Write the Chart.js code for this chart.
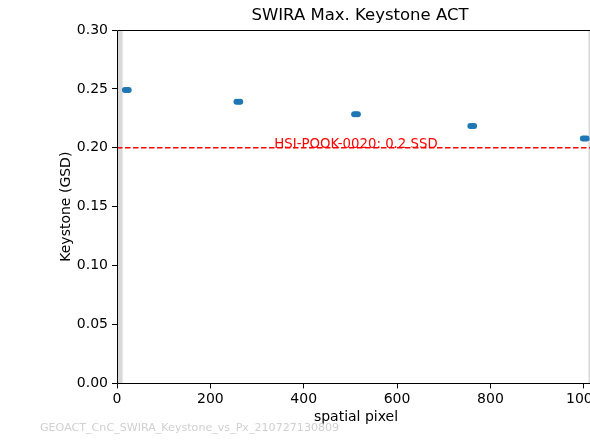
<!DOCTYPE html>
<html>
<head>
<meta charset="utf-8">
<script src="https://cdn.jsdelivr.net/npm/chart.js@4"></script>
<style>
  html, body { margin: 0; padding: 0; background: #fff; overflow: hidden; }
  #wrap { position: relative; width: 590px; height: 440px; overflow: hidden; }
  #chart { position: absolute; left: 0; top: 0; }
</style>
</head>
<body>
<div id="wrap"><canvas id="chart" width="640" height="440"></canvas></div>
<script>
// measured keystone per spatial pixel (several frames per position)
const pixelX = [17, 21, 25, 256, 260, 264, 508, 512, 516, 757, 761, 765, 998, 1002, 1006];
const keystone = [0.249, 0.249, 0.249, 0.239, 0.239, 0.239, 0.2285, 0.2285, 0.2285, 0.2185, 0.2185, 0.2185, 0.208, 0.208, 0.208];
const xTicks = [0, 200, 400, 600, 800, 1000];
const yTicks = [0, 0.05, 0.10, 0.15, 0.20, 0.25, 0.30];
const reqLimit = 0.2;
const reqLabel = 'HSI-POOK-0020: 0.2 SSD';
const edgeBands = [[0, 12], [1010, 1024]];
const chartTitle = 'SWIRA Max. Keystone ACT';
const runId = 'GEOACT_CnC_SWIRA_Keystone_vs_Px_210727130809';

const FONT = 'DejaVu Sans';

const extras = {
  id: 'extras',
  beforeDatasetsDraw(chart) {
    const { ctx, chartArea: a, scales: { x, y } } = chart;
    ctx.save();
    ctx.fillStyle = '#d9d9d9';
    edgeBands.forEach(b => {
      const l = x.getPixelForValue(b[0]), r = x.getPixelForValue(b[1]);
      ctx.fillRect(l, a.top, r - l, a.bottom - a.top);
    });
    // requirement line
    const yl = y.getPixelForValue(reqLimit);
    ctx.strokeStyle = '#ff0000';
    ctx.lineWidth = 1.6;
    ctx.setLineDash([5.5, 2.5]);
    ctx.beginPath();
    ctx.moveTo(a.left, yl);
    ctx.lineTo(a.right, yl);
    ctx.stroke();
    ctx.setLineDash([]);
    ctx.fillStyle = '#ff0000';
    ctx.font = '13.3px "' + FONT + '"';
    ctx.textAlign = 'center';
    ctx.textBaseline = 'alphabetic';
    ctx.fillText(reqLabel, x.getPixelForValue(512), yl);
    ctx.restore();
  },
  afterDraw(chart) {
    const { ctx, chartArea: a } = chart;
    ctx.save();
    // left + top + bottom spines (right spine lies outside the cropped picture)
    const L = Math.round(a.left) + 0.5, T = Math.round(a.top) + 0.5, B = Math.round(a.bottom) + 0.5;
    ctx.strokeStyle = '#000';
    ctx.lineWidth = 1;
    ctx.beginPath();
    ctx.moveTo(a.right, T);
    ctx.lineTo(L, T);
    ctx.lineTo(L, B);
    ctx.lineTo(a.right, B);
    ctx.stroke();
    // title centred over the (uncropped) axes
    ctx.fillStyle = '#000';
    ctx.font = '16.5px "' + FONT + '"';
    ctx.textAlign = 'center';
    ctx.textBaseline = 'middle';
    ctx.fillText(chartTitle, 360, 16);
    ctx.fillStyle = '#d0d0d0';
    ctx.font = '11.1px "' + FONT + '"';
    ctx.textAlign = 'left';
    ctx.fillText(runId, 40, 428);
    ctx.restore();
  }
};

new Chart(document.getElementById('chart'), {
  type: 'scatter',
  data: {
    datasets: [{
      data: pixelX.map((v, i) => ({ x: v, y: keystone[i] })),
      backgroundColor: '#1f77b4',
      borderColor: '#1f77b4',
      pointRadius: 3,
      borderWidth: 0
    }]
  },
  options: {
    responsive: false,
    animation: false,
    layout: { padding: { left: 58, right: 45, top: 30, bottom: 14 } },
    plugins: {
      legend: { display: false },
      tooltip: { enabled: false },
      title: { display: false }
    },
    scales: {
      x: {
        type: 'linear',
        min: 0,
        max: 1024,
        afterBuildTicks: s => { s.ticks = xTicks.map(v => ({ value: v })); },
        ticks: { color: '#000', font: { family: FONT, size: 14 }, padding: 3, maxRotation: 0, callback: v => String(v) },
        grid: { drawOnChartArea: false, drawTicks: true, tickLength: 5, color: '#000' },
        border: { display: true, color: '#000' },
        title: { display: true, text: 'spatial pixel', color: '#000', font: { family: FONT, size: 14 }, padding: { top: -2, bottom: 0 } }
      },
      y: {
        min: 0,
        max: 0.3,
        afterBuildTicks: s => { s.ticks = yTicks.map(v => ({ value: v })); },
        afterFit: s => { s.width = 59; },
        ticks: { color: '#000', font: { family: FONT, size: 14 }, padding: 4, callback: v => v.toFixed(2) },
        grid: { drawOnChartArea: false, drawTicks: true, tickLength: 5, color: '#000' },
        border: { display: true, color: '#000' },
        title: { display: true, text: 'Keystone (GSD)', color: '#000', font: { family: FONT, size: 14 }, padding: 0 }
      }
    }
  },
  plugins: [extras]
});
</script>
</body>
</html>
